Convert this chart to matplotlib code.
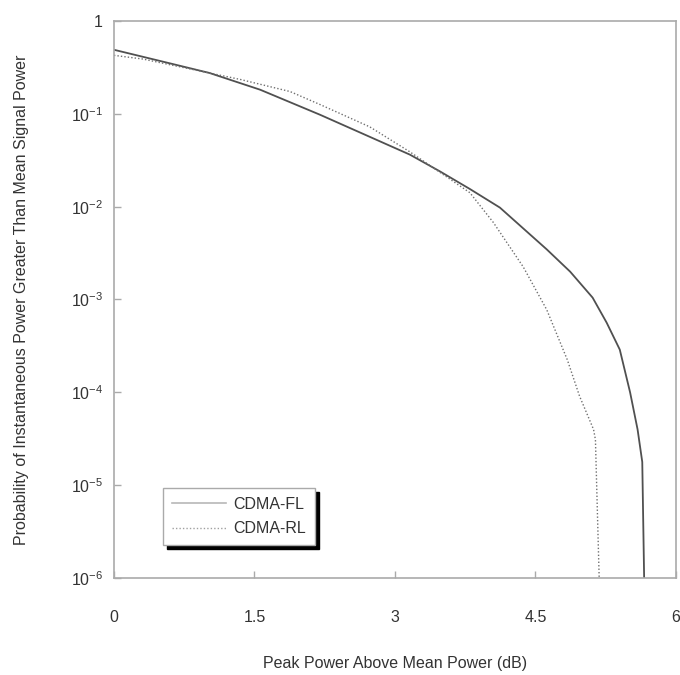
import matplotlib.pyplot as plt
from matplotlib.lines import Line2D
from matplotlib.ticker import FixedLocator, FixedFormatter
import numpy as np

plt.rcParams['font.family'] = ['Liberation Sans', 'DejaVu Sans']
plt.rcParams['mathtext.fontset'] = 'custom'
plt.rcParams['mathtext.rm'] = 'Liberation Sans'

# CCDF of instantaneous power, read as (dB above mean, decades below 1)
fl_db = [0.0, 0.49, 1.02, 1.56, 2.20, 3.16, 3.48, 3.80, 4.12, 4.62, 4.87, 5.11,
         5.26, 5.40, 5.51, 5.59, 5.64, 5.66]
fl_dec = [0.31, 0.43, 0.56, 0.74, 1.01, 1.44, 1.62, 1.81, 2.01, 2.46, 2.70, 2.98,
          3.25, 3.54, 4.0, 4.40, 4.75, 6.0]

rl_db = [0.0, 0.31, 1.35, 1.88, 2.20, 2.73, 3.16, 3.80, 4.05, 4.37, 4.62, 4.84,
         4.97, 5.12, 5.14, 5.18]
rl_dec = [0.37, 0.41, 0.63, 0.76, 0.90, 1.14, 1.41, 1.85, 2.17, 2.65, 3.11, 3.65,
          4.04, 4.40, 4.51, 6.0]

xticks = [0, 1.5, 3, 4.5, 6]
xticklabels = ['0', '1.5', '3', '4.5', '6']
yticks = [1e-6, 1e-5, 1e-4, 1e-3, 1e-2, 1e-1, 1]
yticklabels = ['$10^{-6}$', '$10^{-5}$', '$10^{-4}$', '$10^{-3}$', '$10^{-2}$', '$10^{-1}$', '1']

fl_p = 10.0 ** (-np.array(fl_dec))
rl_p = 10.0 ** (-np.array(rl_dec))

fig = plt.figure(figsize=(6.8, 6.75), dpi=100)
ax = fig.add_axes([0.1676, 0.1437, 0.8265, 0.8252])

ax.plot(fl_db, fl_p, color='#505050', lw=1.3, ls='-')
ax.plot(rl_db, rl_p, color='#707070', lw=1.0, ls=(0, (1, 1.5)))

ax.set_yscale('log')
ax.set_xlim(0, 6)
ax.set_ylim(1e-6, 1)
ax.xaxis.set_major_locator(FixedLocator(xticks))
ax.xaxis.set_major_formatter(FixedFormatter(xticklabels))
ax.yaxis.set_major_locator(FixedLocator(yticks))
ax.yaxis.set_major_formatter(FixedFormatter(yticklabels))
ax.yaxis.set_minor_locator(FixedLocator([]))

for s in ax.spines.values():
    s.set_color('#aaaaaa')
    s.set_linewidth(1.2)
ax.tick_params(axis='both', direction='in', length=5, color='#aaaaaa', width=1,
               labelsize=11.5, labelcolor='#333333')
ax.tick_params(axis='x', pad=23)
ax.tick_params(axis='y', pad=8)

ax.set_xlabel('Peak Power Above Mean Power (dB)', fontsize=11.5, color='#333333', labelpad=22)
ax.set_ylabel('Probability of Instantaneous Power Greater Than Mean Signal Power',
              fontsize=11.5, color='#333333', labelpad=30)

handles = [Line2D([], [], color='#b8b8b8', lw=1.2, ls='-'),
           Line2D([], [], color='#a0a0a0', lw=1.0, ls=(0, (1, 1.5)))]
leg = ax.legend(handles, ['CDMA-FL', 'CDMA-RL'], loc='lower left',
                bbox_to_anchor=(0.087, 0.059), fontsize=11.5, handlelength=3.4,
                fancybox=False, framealpha=1, edgecolor='#aaaaaa',
                shadow={'color': 'black', 'alpha': 1, 'ox': 3, 'oy': -3},
                borderpad=0.55, labelspacing=0.6, handletextpad=0.45,
                borderaxespad=0)
for t in leg.get_texts():
    t.set_color('#333333')

fig.savefig('out.png', dpi=100)
